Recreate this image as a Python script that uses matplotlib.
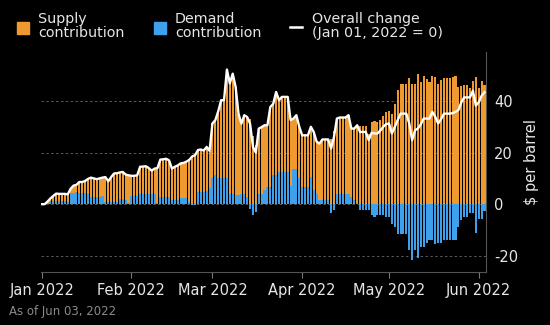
import pandas as pd
import matplotlib.pyplot as plt
import matplotlib.dates as mdates
from matplotlib.patches import Rectangle
from matplotlib.lines import Line2D

plt.rcParams["axes.unicode_minus"] = False

# daily values, Jan 01 2022 -> Jun 03 2022 ($ per barrel, Jan 01 = 0)
overall = [
    0, 0, 1.0, 2.2, 3.2, 4.1, 4.0, 4.0, 4.0, 3.8,
    6.0, 7.2, 7.5, 8.6, 8.6, 9.0, 9.8, 10.3, 10.0, 9.7,
    10.0, 10.3, 10.5, 8.9, 10.5, 11.9, 12.0, 12.3, 12.5, 11.5,
    11.2, 11.0, 11.0, 11.2, 14.5, 14.6, 14.7, 14.0, 13.0, 13.8,
    14.0, 17.3, 17.4, 17.6, 17.0, 13.8, 14.5, 15.0, 15.8, 16.0,
    16.5, 17.2, 18.5, 19.0, 21.0, 21.2, 20.8, 22.2, 20.7, 31.3,
    32.6, 36.0, 40.3, 40.3, 52.2, 46.8, 50.6, 45.5, 35.1, 31.2,
    34.5, 33.8, 31.2, 22.2, 20.0, 29.3, 29.9, 30.6, 30.6, 37.7,
    38.9, 43.5, 40.3, 41.6, 41.6, 41.6, 32.6, 33.2, 34.5, 30.0,
    26.7, 26.7, 26.7, 30.0, 28.0, 24.2, 23.5, 25.1, 25.1, 25.1,
    21.6, 26.0, 33.2, 33.6, 33.6, 33.6, 34.5, 29.3, 29.3, 30.6,
    28.0, 28.0, 28.0, 24.8, 27.7, 27.4, 27.4, 28.5, 30.0, 31.0,
    31.3, 27.4, 30.0, 32.6, 35.1, 35.1, 35.1, 31.3, 24.8, 28.7,
    29.3, 31.0, 33.2, 33.2, 33.2, 35.8, 33.8, 31.3, 33.0, 35.1,
    35.1, 35.1, 35.3, 35.8, 36.5, 39.5, 41.4, 41.4, 41.4, 44.0,
    38.2, 39.5, 42.0, 43.4,
]
demand = [
    0, 0, 0.5, 1.3, 1.3, 1.3, 1.3, 1.3, 1.3, 1.0,
    4.4, 4.4, 4.6, 4.4, 4.4, 4.2, 4.0, 2.6, 2.6, 2.6,
    2.8, 3.0, 0.7, 0.7, 0.9, 0.7, 0.7, 2.0, 2.0, 1.8,
    0.3, 3.1, 3.1, 3.1, 3.8, 3.8, 3.9, 3.8, 3.8, 3.8,
    0.5, 2.6, 2.6, 2.6, 2.6, 1.5, 1.5, 1.5, 2.3, 2.3,
    2.3, 1.0, -0.2, -0.3, 4.9, 4.9, 4.9, 5.1, 6.2, 10.0,
    11.3, 10.0, 10.0, 10.0, 10.0, 4.1, 4.1, 3.5, 3.5, 4.0,
    4.0, 2.6, -1.7, -4.3, -3.0, 4.1, 4.1, 5.4, 6.7, 6.7,
    11.2, 11.5, 12.5, 12.5, 12.5, 12.5, 7.0, 13.8, 13.5, 10.0,
    6.7, 6.7, 6.7, 10.6, 5.4, 4.1, 1.5, 1.5, 1.5, 1.5,
    -3.6, -2.3, 3.8, 3.8, 3.8, 3.8, 3.8, 2.9, 1.5, 0.3,
    -2.3, -2.3, -2.3, -2.3, -4.3, -4.9, -4.3, -4.3, -4.3, -4.9,
    -4.9, -7.5, -8.8, -11.6, -11.6, -11.6, -11.6, -17.8, -21.7, -17.8,
    -21.0, -16.5, -16.5, -15.2, -14.0, -14.0, -15.5, -15.2, -15.2, -14.0,
    -14.0, -13.9, -13.9, -13.9, -8.8, -6.2, -4.9, -4.9, -3.6, -3.6,
    -11.0, -5.7, -5.7, -2.8,
]
dates = pd.date_range("2022-01-01", periods=len(overall), freq="D")

df = pd.DataFrame({"overall": overall, "demand": demand}, index=dates)
df["supply"] = df["overall"] - df["demand"]
# supply stacks on top of positive demand, starts at zero otherwise
df["supply_base"] = df["demand"].clip(lower=0)

orange = "#EE9A30"
blue = "#3FA0EC"
bg = "black"
txt = "#E6E6E6"

fig = plt.figure(figsize=(5.5, 3.25), dpi=100, facecolor=bg)
ax = fig.add_axes([0.0745, 0.163, 0.809, 0.677], facecolor=bg)

ax.grid(axis="y", color="#5a5a5a", linestyle=(0, (2.5, 2.5)), linewidth=0.7)
ax.set_axisbelow(True)

ax.bar(df.index, df["demand"], width=0.72, color=blue, linewidth=0, zorder=2)
ax.bar(df.index, df["supply"], bottom=df["supply_base"], width=0.72,
       color=orange, linewidth=0, zorder=2)
ax.plot(df.index, df["overall"], color="white", linewidth=1.7, zorder=3)

ax.set_xlim(pd.Timestamp("2022-01-01") - pd.Timedelta(hours=6),
            pd.Timestamp("2022-06-03") + pd.Timedelta(hours=12))
ax.set_ylim(-26.3, 59)

ax.xaxis.set_major_locator(mdates.MonthLocator())
ax.xaxis.set_major_formatter(mdates.DateFormatter("%b %Y"))
ax.tick_params(axis="x", colors="#777777", labelcolor=txt, labelsize=10.5,
               length=4, width=0.8, pad=4)

ax.yaxis.tick_right()
ax.set_yticks([-20, 0, 20, 40])
ax.tick_params(axis="y", length=0, labelcolor=txt, labelsize=10.5, pad=6)
ax.yaxis.set_label_position("right")
ax.set_ylabel("$ per barrel", color=txt, fontsize=10.5, labelpad=4)

for s in ["top", "left"]:
    ax.spines[s].set_visible(False)
for s in ["right", "bottom"]:
    ax.spines[s].set_color("#555555")
    ax.spines[s].set_linewidth(0.8)

# legend along the top
fig.add_artist(Rectangle((17 / 550, 1 - 34 / 325), 12 / 550, 12 / 325,
                         transform=fig.transFigure, color=orange))
fig.text(38 / 550, 1 - 26 / 325, "Supply\ncontribution", color=txt,
         fontsize=10.3, va="center", ha="left", linespacing=0.95)
fig.add_artist(Rectangle((154 / 550, 1 - 34 / 325), 12 / 550, 12 / 325,
                         transform=fig.transFigure, color=blue))
fig.text(175 / 550, 1 - 26 / 325, "Demand\ncontribution", color=txt,
         fontsize=10.3, va="center", ha="left", linespacing=0.95)
fig.add_artist(Line2D([290 / 550, 302 / 550], [1 - 27 / 325, 1 - 27 / 325],
                      transform=fig.transFigure, color="white", linewidth=1.8))
fig.text(312 / 550, 1 - 26 / 325, "Overall change\n(Jan 01, 2022 = 0)",
         color=txt, fontsize=10.3, va="center", ha="left", linespacing=0.95)

fig.text(9 / 550, 1 - 311 / 325, "As of Jun 03, 2022", color="#8a8a8a",
         fontsize=8.5, va="center", ha="left")

fig.savefig("out.png", dpi=100, facecolor=bg)
